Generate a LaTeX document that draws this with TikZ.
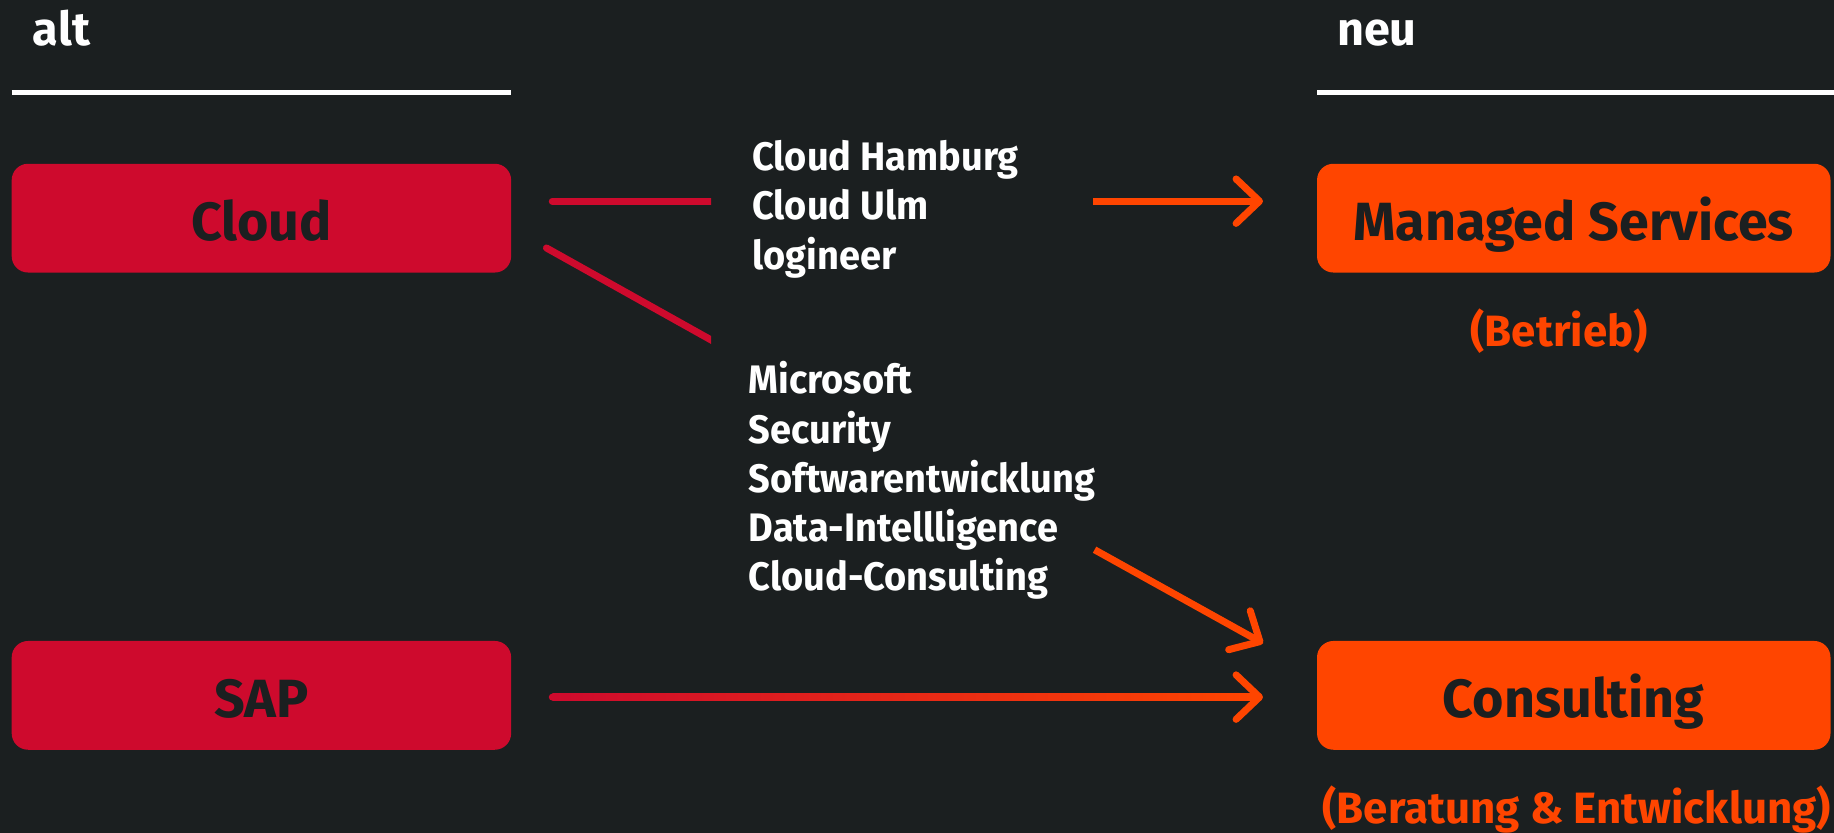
\documentclass[tikz,border=0pt]{standalone}
\usepackage{fontspec}
\setmainfont{Fira Sans}
\newfontfamily\midfont{Fira Sans}[FakeStretch=0.955]
\usetikzlibrary{arrows.meta,calc}
\definecolor{bg}{HTML}{1B1F20}
\definecolor{cred}{HTML}{CE0A2D}
\definecolor{corange}{HTML}{FF4500}
\begin{document}
\begin{tikzpicture}[x=1pt,y=-1pt,
  box/.style={rounded corners=14pt, minimum width=427pt, minimum height=93pt,
    inner sep=0pt, text=bg, text height=38pt, text depth=0pt,
    font=\fontsize{46}{50}\selectfont\bfseries},
  head/.style={anchor=base west, inner sep=0pt, text=white,
    font=\fontsize{40}{48}\selectfont\bfseries},
  sub/.style={anchor=base, inner sep=0pt, text=corange,
    font=\fontsize{37.5}{44}\selectfont\bfseries},
  mid/.style={anchor=north west, inner sep=0pt, text=white, align=left,
    font=\midfont\fontsize{34}{42}\selectfont\bfseries},
  rule/.style={white, line width=4.5pt},
  redline/.style={cred, line width=6pt, line cap=round},
  oline/.style={corange, line width=6pt},
  tip/.style={-{Straight Barb[length=20pt, width=38pt, line cap=round, line join=round]}}
]
\fill[bg] (0,0) rectangle (1568,712);
\useasboundingbox (0,0) rectangle (1568,712);

% headers
\node[head] (alt) at (28,39) {alt};
\node[head] (neu) at (1143,39) {neu};
\draw[rule] (10,79) -- (437,79);
\draw[rule] (1126,79) -- (1568,79);

% boxes
\node[box, fill=cred] (cloud) at (223.5,186.5) {Cloud};
\node[box, fill=cred] (sap) at (223.5,594.5) {SAP};
\node[box, fill=corange, minimum width=439pt] (ms) at (1345.5,186.5) {Managed Services};
\node[box, fill=corange, minimum width=439pt] (cons) at (1345.5,594.5) {Consulting};

% subtitles
\node[sub] (betrieb) at (1333,296) {(Betrieb)};
\node[sub] (beratung) at (1348,704) {(Beratung \& Entwicklung)};

% middle text
\node[mid] (t1) at (643,120) {Cloud Hamburg\\Cloud Ulm\\logineer};
\node[mid] (t2) at (640,309) {Microsoft\\Security\\Softwarentwicklung\\Data-Intellligence\\Cloud-Consulting};

% red connectors (cut vertically at their right ends)
\begin{scope}
  \clip ($(cloud.east)+(0,-200)$) rectangle (608,400);
  \draw[redline] ($(cloud.east)+(35,-14.5)$) -- ($(t1.west |- cloud.east)+(-20,-14.5)$);
  \draw[redline] ($(cloud.east)+(30,25.5)$) -- ($(cloud.east)+(183,111)$);
\end{scope}

% orange arrows
\draw[oline, tip] ($(ms.west)+(-191,-14.5)$) -- ($(ms.west)+(-46,-14.5)$);
\draw[oline, tip] ($(cons.west)+(-190,-124.5)$) -- ($(cons.west)+(-46,-44.5)$);

% SAP gradient arrow
\shade[left color=cred, right color=corange]
  ($(sap.east)+(35,-1.5)$) rectangle ($(cons.west)+(-52,4.5)$);
\fill[cred] ($(sap.east)+(35,1.5)$) circle (3);
\draw[oline, tip] ($(cons.west)+(-60,1.5)$) -- ($(cons.west)+(-46,1.5)$);
\end{tikzpicture}
\end{document}
